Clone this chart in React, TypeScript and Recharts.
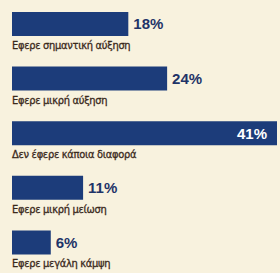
import { Bar, BarChart, LabelList, XAxis, YAxis } from "recharts";

const categories = [
    "Εφερε σημαντική αύξηση",
    "Εφερε μικρή αύξηση",
    "Δεν έφερε κάποια διαφορά",
    "Εφερε μικρή μείωση",
    "Εφερε μεγάλη κάμψη",
];
const shares = [18, 24, 41, 11, 6];
const maxShare = 41;

const data = categories.map((name, i) => ({ name, value: shares[i] }));

const BAR = "#1c3c7a";
const BG = "#f8f2de";

function BarLabel(props: any) {
    const { x, y, width, height, value, index } = props;
    const inside = value === maxShare;
    return (
        <g>
            <text
                x={inside ? x + width - 10 : x + width + 5}
                y={y + height / 2}
                dy="0.36em"
                textAnchor={inside ? "end" : "start"}
                fill={inside ? "#ffffff" : "#1f3468"}
                fontFamily="'Liberation Sans', Arial, sans-serif"
                fontWeight="bold"
                fontSize={15}
            >
                {value}%
            </text>
            <text
                x={x}
                y={y + height + 13}
                fill="#3b2a1c"
                stroke="#3b2a1c"
                strokeWidth={0.3}
                fontFamily="'Liberation Sans Narrow', 'DejaVu Sans Condensed', sans-serif"
                fontSize={11}
                letterSpacing={-0.3}
            >
                {categories[index]}
            </text>
        </g>
    );
}

export default function App() {
    return (
        <div style={{ position: "fixed", left: 0, top: 0, width: 280, height: 273, background: BG, overflow: "hidden" }}>
            <div style={{ position: "absolute", left: 0, top: -3 }}>
                <BarChart
                    width={280}
                    height={276}
                    data={data}
                    layout="vertical"
                    margin={{ top: 0, right: 3, bottom: 3, left: 12 }}
                >
                    <XAxis type="number" domain={[0, maxShare]} hide />
                    <YAxis type="category" dataKey="name" hide width={0} />
                    <Bar dataKey="value" fill={BAR} barSize={24} isAnimationActive={false}>
                        <LabelList dataKey="value" content={BarLabel} />
                    </Bar>
                </BarChart>
            </div>
        </div>
    );
}
